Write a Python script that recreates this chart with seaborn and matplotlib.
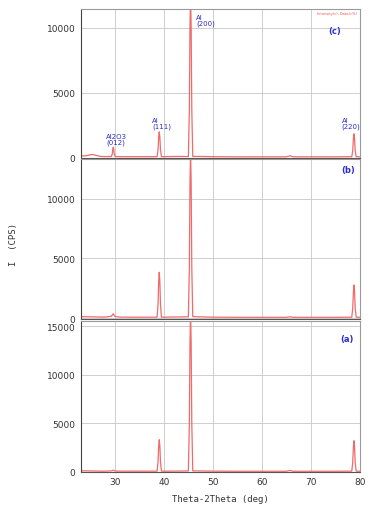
import numpy as np
import pandas as pd
import seaborn as sns
import matplotlib.pyplot as plt
from matplotlib.ticker import MultipleLocator

# 2theta sample points (deg)
two_theta = [23.0, 24.0, 24.8, 25.4, 26.0, 27.0, 28.0,
             29.2, 29.4, 29.5, 29.6, 29.7, 29.8, 30.0,
             31.0, 33.0, 35.0, 37.0,
             38.55, 38.75, 38.88, 39.0, 39.12, 39.25, 39.45,
             41.0, 43.0,
             44.95, 45.15, 45.28, 45.4, 45.52, 45.65, 45.85,
             47.0, 50.0, 55.0, 60.0, 65.0, 65.7, 66.4, 70.0, 75.0,
             78.35, 78.55, 78.68, 78.8, 78.92, 79.05, 79.25,
             80.0]

# intensities (CPS) for the three samples
cps_c = [150, 160, 230, 260, 200, 110, 100,
         100, 300, 650, 820, 650, 300, 100,
         90, 90, 90, 90,
         90, 600, 1600, 2000, 1600, 600, 90,
         100, 110,
         100, 3700, 10000, 12500, 10000, 3700, 110,
         110, 90, 80, 80, 80, 160, 80, 80, 80,
         90, 560, 1480, 1850, 1480, 560, 90,
         80]
cps_b = [120, 110, 100, 100, 90, 80, 80,
         150, 250, 330, 340, 300, 200, 120,
         80, 70, 70, 70,
         70, 1150, 3050, 3830, 3050, 1150, 70,
         80, 90,
         100, 4200, 11200, 14000, 11200, 4200, 120,
         100, 70, 60, 60, 60, 100, 60, 60, 60,
         70, 830, 2200, 2760, 2200, 830, 70,
         60]
cps_a = [100, 90, 80, 80, 70, 60, 60,
         90, 110, 140, 150, 140, 110, 70,
         60, 60, 60, 60,
         60, 1000, 2650, 3300, 2650, 1000, 60,
         60, 70,
         80, 5000, 13200, 16500, 13200, 5000, 90,
         80, 60, 50, 50, 50, 130, 50, 50, 50,
         60, 960, 2560, 3200, 2560, 960, 60,
         50]

panel_names = ['(c)', '(b)', '(a)']
panel_data = [cps_c, cps_b, cps_a]
panel_ylim = [(-20, 11435), (-84, 13317), (-31, 15546)]
panel_yticks = [[0, 5000, 10000], [0, 5000, 10000], [0, 5000, 10000, 15000]]
panel_pos = [[0.212, 0.688, 0.730, 0.292],
             [0.212, 0.3725, 0.730, 0.3137],
             [0.212, 0.0725, 0.730, 0.296]]
label_xy = [(74.9, 9760), (77.6, 12400), (77.3, 13770)]

peak_text = ['Al2O3\n(012)', 'Al\n(111)', 'Al\n(200)', 'Al\n(220)']
peak_text_x = [28.2, 37.5, 46.5, 76.3]
peak_text_y = [1930, 3150, 11080, 3150]

sns.set_style('white')
fig = plt.figure(figsize=(3.82, 5.10), dpi=100)

line_col = '#f06a6a'
blue = '#2a2ad8'

for i in range(3):
    ax = fig.add_axes(panel_pos[i])
    df = pd.DataFrame({'tt': two_theta, 'cps': panel_data[i]})
    sns.lineplot(data=df, x='tt', y='cps', ax=ax, color=line_col, linewidth=0.9,
                 estimator=None, sort=True)
    ax.set_xlim(23, 80)
    ax.set_ylim(*panel_ylim[i])
    ax.set_xticks([30, 40, 50, 60, 70, 80])
    ax.set_yticks(panel_yticks[i])
    ax.xaxis.set_minor_locator(MultipleLocator(1))
    ax.yaxis.set_minor_locator(MultipleLocator(1000))
    ax.grid(True, which='major', color='#c8c8c8', linewidth=0.6)
    ax.tick_params(axis='y', which='major', direction='out', length=3, width=0.6,
                   labelsize=6.5, colors='#333333', pad=1)
    ax.tick_params(axis='y', which='minor', direction='out', length=1.5, width=0.5,
                   colors='#555555')
    ax.tick_params(axis='x', which='major', direction='inout', length=3, width=0.6,
                   labelsize=6.5, colors='#333333', pad=2)
    ax.tick_params(axis='x', which='minor', direction='inout', length=2, width=0.5,
                   colors='#333333')
    for s in ax.spines.values():
        s.set_color('#9a9a9a')
        s.set_linewidth(0.8)
    ax.spines['left'].set_color('#444444')
    ax.spines['bottom'].set_color('#555555')
    ax.set_xlabel('')
    ax.set_ylabel('')
    if i < 2:
        ax.tick_params(axis='x', labelbottom=False)
    ax.text(label_xy[i][0], label_xy[i][1], panel_names[i], color=blue,
            fontsize=6, fontweight='bold', ha='center', va='center')
    if i == 0:
        for t, px, py in zip(peak_text, peak_text_x, peak_text_y):
            ax.text(px, py, t, color=blue, fontsize=5, ha='left', va='top',
                    linespacing=0.95)
        ax.text(79.3, 11300, 'Intensity(c), Data(c%)', color='#f05050',
                fontsize=2.6, ha='right', va='top')
    if i == 2:
        ax.set_xlabel('Theta-2Theta (deg)', family='DejaVu Sans Mono',
                      fontsize=6.5, color='#333333', labelpad=6)

fig.text(0.035, 0.52, 'I  (CPS)', family='DejaVu Sans Mono', fontsize=6.5,
         color='#333333', rotation=90, ha='center', va='center')

fig.savefig('out.png', dpi=100)
